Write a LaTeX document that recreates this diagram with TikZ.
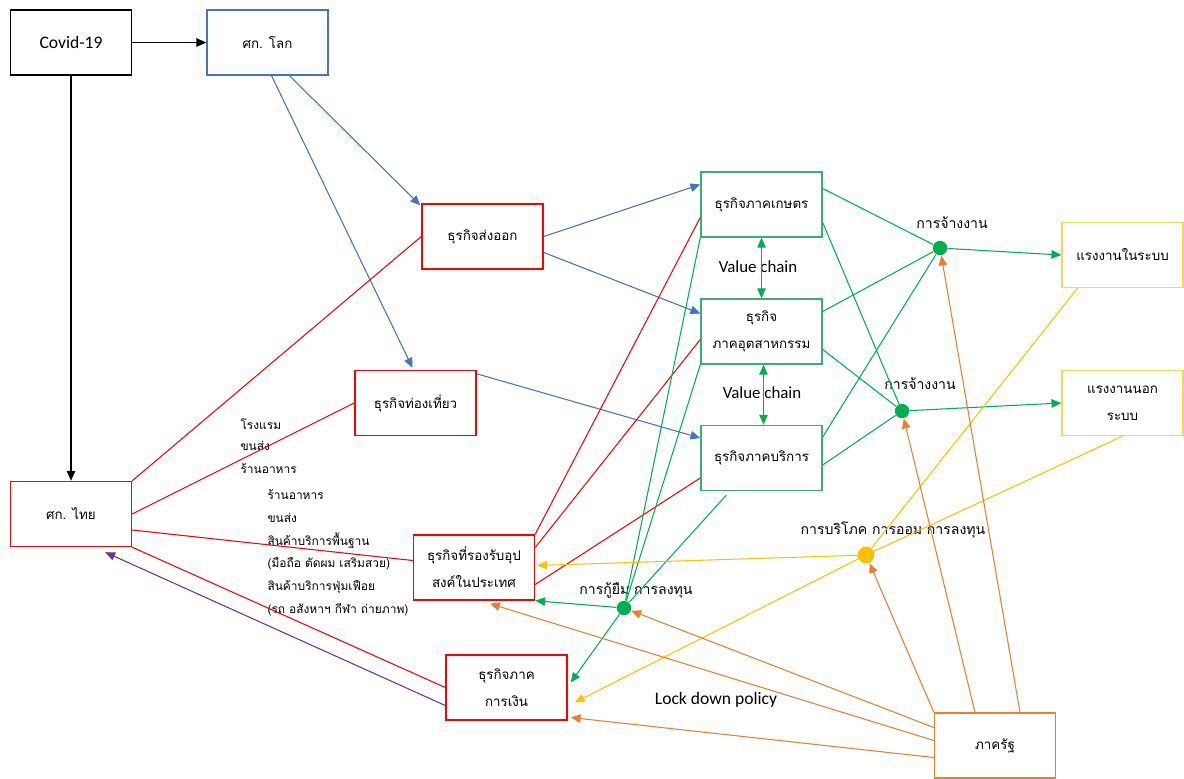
\documentclass[tikz,border=0pt]{standalone}
\usepackage{fontspec}
\setmainfont{Carlito}
\newfontfamily\thaifont[Script=Thai]{Loma}
\usepackage{tikz}
\usetikzlibrary{calc,arrows.meta,positioning}

\definecolor{wblue}{HTML}{4472C4}
\definecolor{wred}{HTML}{FF0000}
\definecolor{wgreen}{HTML}{00B050}
\definecolor{wgbox}{HTML}{3BAF6E}
\definecolor{wyellow}{HTML}{FFC000}
\definecolor{wybox}{HTML}{FFD54F}
\definecolor{worange}{HTML}{ED7D31}
\definecolor{wpurple}{HTML}{7030A0}

\begin{document}
\begin{tikzpicture}[x=0.025cm, y=-0.025cm, >={Triangle[length=7pt,width=6pt]}, line width=0.75pt,
  box/.style={rectangle, draw, line width=1pt, minimum width=3.025cm, minimum height=1.625cm, align=center, font=\thaifont\fontsize{9.5}{19}\selectfont},
  dot/.style={circle, inner sep=0pt, minimum size=0.36cm},
  lbl/.style={font=\thaifont\fontsize{10}{12}\selectfont, inner sep=1pt},
  item/.style={font=\thaifont\fontsize{8.5}{10}\selectfont, anchor=west, inner sep=0pt}]
\useasboundingbox (0,0) rectangle (1184,778);

% boxes
\node[box, draw=black, font=\fontsize{12.5}{14}\selectfont] (covid) at (71,42.5) {Covid-19};
\node[box, draw=wblue] (wld) at (267.5,42.5) {ศก. โลก};
\node[box, draw=wred] (exp) at (482.5,236.5) {ธุรกิจส่งออก};
\node[box, draw=wred] (tour) at (415.5,403) {ธุรกิจท่องเที่ยว};
\node[box, draw=wred] (thai) at (71,514) {ศก. ไทย};
\node[box, draw=wred] (dom) at (474,567.5) {ธุรกิจที่รองรับอุป\\สงค์ในประเทศ};
\node[box, draw=wred] (fin) at (506.5,687.5) {ธุรกิจภาค\\การเงิน};
\node[box, draw=wgbox] (agr) at (761.5,204.5) {ธุรกิจภาคเกษตร};
\node[box, draw=wgbox] (ind) at (761.5,331.5) {ธุรกิจ\\ภาคอุตสาหกรรม};
\node[box, draw=wgbox] (svc) at (761.5,458) {ธุรกิจภาคบริการ};
\node[box, draw=wybox] (formal) at (1122.5,255) {แรงงานในระบบ};
\node[box, draw=wybox] (informal) at (1122.5,403) {แรงงานนอก\\ระบบ};
\node[box, draw=worange] (gov) at (995,745.5) {ภาครัฐ};

% dots
\node[dot, fill=wgreen] (d1) at (940,248) {};
\node[dot, fill=wgreen] (d2) at (902,411) {};
\node[dot, fill=wgreen] (d3) at (624,608) {};
\node[dot, fill=wyellow, minimum width=0.42cm] (d4) at (866,555) {};

% labels
\node[lbl] (emp1) at (952,223) {การจ้างงาน};
\node[lbl] (emp2) at (920,384) {การจ้างงาน};
\node[lbl] (loan) at (636,590) {การกู้ยืม การลงทุน};
\node[lbl] (cons) at (893,530) {การบริโภค การออม การลงทุน};
\node[font=\fontsize{12}{14}\selectfont] (vc1) at (758,267) {Value chain};
\node[font=\fontsize{12}{14}\selectfont] (vc2) at (762,393) {Value chain};
\node[font=\fontsize{12.5}{14}\selectfont] (lock) at (716,700) {Lock down policy};

\node[item] (t1) at (240,424) {โรงแรม};
\node[item] (t2) at (240,446) {ขนส่ง};
\node[item] (t3) at (240,469) {ร้านอาหาร};
\node[item] (t4) at (267,495) {ร้านอาหาร};
\node[item] (t5) at (267,518) {ขนส่ง};
\node[item] (t6) at (267,541) {สินค้าบริการพื้นฐาน};
\node[item] (t7) at (267,564) {(มือถือ ตัดผม เสริมสวย)};
\node[item] (t8) at (267,587) {สินค้าบริการฟุ่มเฟือย};
\node[item] (t9) at (267,610) {(รถ อสังหาฯ กีฬา ถ่ายภาพ)};

% black
\draw[->] (covid) -- (wld);
\draw[->] (covid) -- (thai);

% blue
\draw[->, wblue] ($(wld.south)+(22,0)$) -- ($(exp.north west)+(-1,2)$);
\draw[->, wblue] ($(wld.south)+(4,0)$) -- ($(tour.north)+(-3,-2)$);
\draw[->, wblue] (exp.east) -- ($(agr.west)+(0,-20)$);
\draw[->, wblue] ($(exp.east)+(0,16)$) -- ($(ind.west)+(0,-18)$);
\draw[->, wblue] ($(tour.north east)+(0,4)$) -- ($(svc.west)+(0,-20)$);

% red
\draw[wred] (thai.north east) -- (exp.west);
\draw[wred] (thai.east) -- (tour.west);
\draw[wred] ($(thai.east)+(0,16)$) -- ($(dom.west)+(0,-7)$);
\draw[wred] (thai.south east) -- (fin.west);
\draw[wred] (dom.north east) -- ($(agr.west)+(0,13)$);
\draw[wred] ($(dom.east)+(0,-20)$) -- ($(ind.west)+(0,8)$);
\draw[wred] ($(dom.east)+(0,17)$) -- ($(svc.west)+(0,20)$);

% purple
\draw[->, wpurple] ($(fin.west)+(0,18)$) -- ($(thai.south east)+(-27,5)$);

% green
\draw[<->, wgreen] (agr.south) -- (ind.north);
\draw[<->, wgreen] ($(ind.south)+(2,0)$) -- ($(svc.north)+(2,0)$);
\draw[wgreen] ($(agr.east)+(0,-16)$) -- (d1);
\draw[wgreen] ($(ind.east)+(0,-20)$) -- (d1);
\draw[wgreen] ($(svc.east)+(0,-21)$) -- (d1);
\draw[wgreen] ($(agr.east)+(0,18)$) -- (d2);
\draw[wgreen] ($(ind.east)+(0,18)$) -- (d2);
\draw[wgreen] ($(svc.east)+(0,7)$) -- (d2);
\draw[->, wgreen] (d1) -- (formal.west);
\draw[->, wgreen] (d2) -- (informal.west);
\draw[wgreen] (agr.south west) -- (d3);
\draw[wgreen] (ind.south west) -- (d3);
\draw[wgreen] ($(svc.south west)+(26,4)$) -- (d3);
\draw[->, wgreen] (d3) -- (dom.south east);
\draw[->, wgreen] (d3) -- ($(fin.east)+(3,-5)$);

% yellow
\draw[wyellow] ($(formal.south)+(-45,0)$) -- (d4);
\draw[wyellow] (informal.south) -- (d4);
\draw[->, wyellow] (d4) -- ($(dom.east)+(2,-2)$);
\draw[->, wyellow] (d4) -- ($(fin.east)+(7,15)$);

% orange
\draw[->, worange] ($(gov.north)+(25,0)$) -- (d1);
\draw[->, worange] ($(gov.north)+(-20,0)$) -- (d2);
\draw[->, worange] (gov.north west) -- (d4);
\draw[->, worange] ($(gov.west)+(0,-18)$) -- (d3);
\draw[->, worange] ($(gov.west)+(0,-5)$) -- ($(dom.south)+(16,3)$);
\draw[->, worange] ($(gov.west)+(0,12)$) -- ($(fin.east)+(3,30)$);
\end{tikzpicture}
\end{document}
